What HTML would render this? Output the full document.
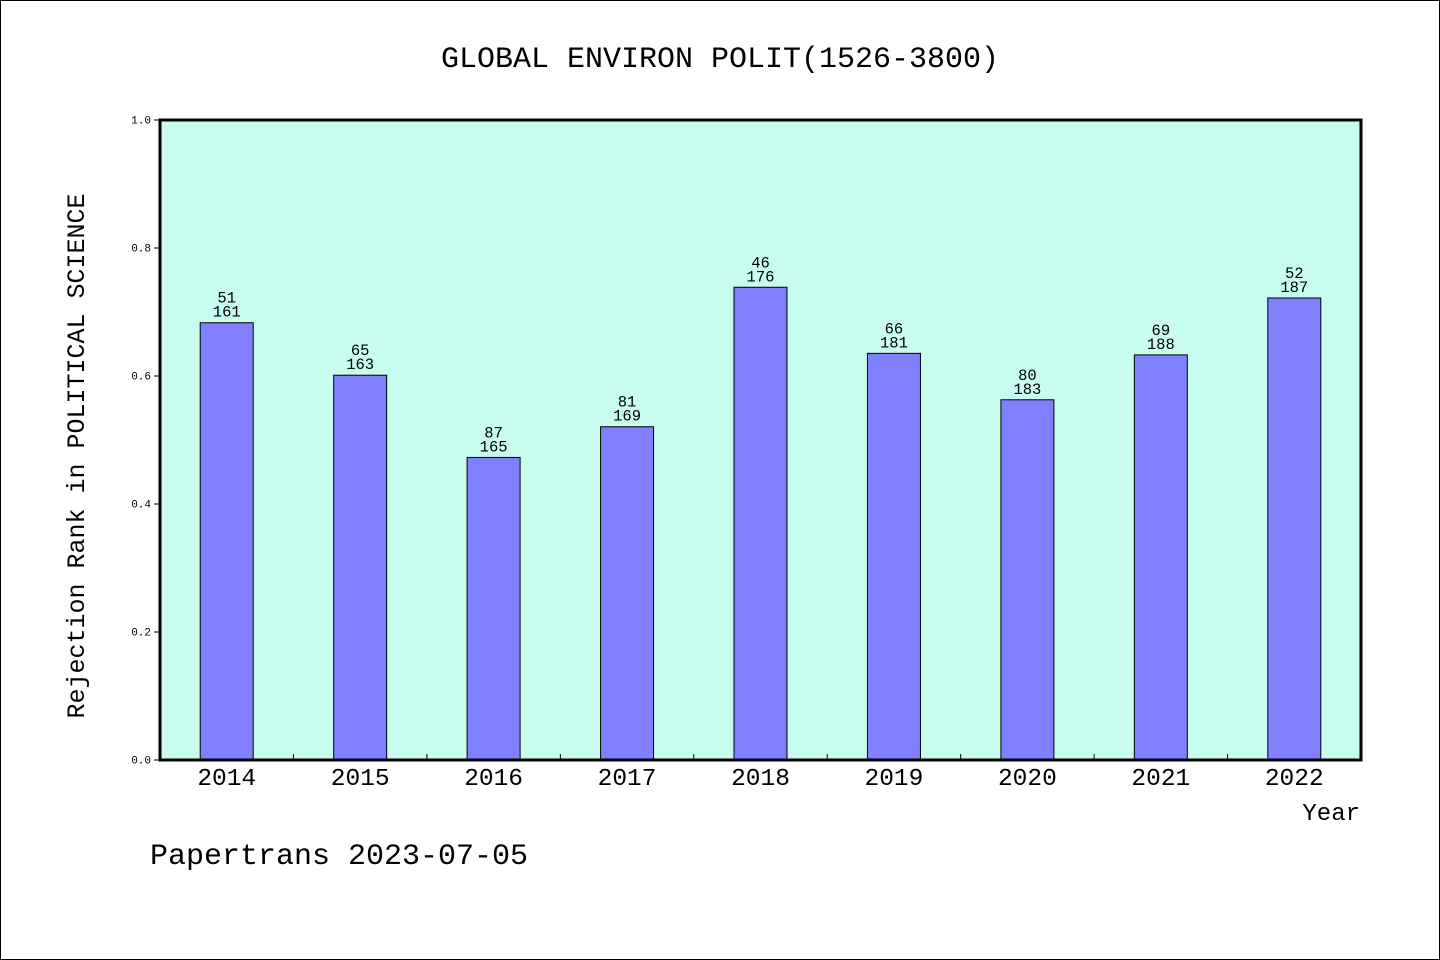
<!DOCTYPE html>
<html><head><meta charset="utf-8"><style>
html,body{margin:0;padding:0;background:#fff;}
svg{display:block;}
text{font-family:"Liberation Mono","WenQuanYi Zen Hei",monospace;fill:#000;}
</style></head><body>
<svg width="1440" height="960" viewBox="0 0 1440 960" xmlns="http://www.w3.org/2000/svg">
<rect x="0.5" y="0.5" width="1439" height="959" fill="#fff" stroke="#000"/>
<text x="720" y="67" font-size="30" text-anchor="middle">GLOBAL ENVIRON POLIT(1526-3800)</text>
<rect x="160" y="120" width="1201" height="640" fill="#c8fcee"/>
<g id="bars"></g>
<rect x="160" y="120" width="1201" height="640" fill="none" stroke="#000" stroke-width="3"/>
<g id="axes"></g>
<text transform="translate(84,456) rotate(-90)" font-size="25" text-anchor="middle">Rejection Rank in POLITICAL SCIENCE</text>
<text x="1360" y="820" font-size="24" text-anchor="end">Year</text>
<text x="150" y="864" font-size="30">Papertrans 2023-07-05</text>
</svg>
<script>
const years = ["2014","2015","2016","2017","2018","2019","2020","2021","2022"];
const ranks = [51,65,87,81,46,66,80,69,52];
const totals = [161,163,165,169,176,181,183,188,187];
const yTicks = [0,0.2,0.4,0.6,0.8,1.0];
const NS="http://www.w3.org/2000/svg";
const X0=160,X1=1361,Y0=760,Y1=120;
const band=(X1-X0)/years.length;
const xc=i=>X0+band*(i+0.5);
const ys=v=>Y0-(Y0-Y1)*v;
function mk(tag,attrs,parent,txt){const e=document.createElementNS(NS,tag);for(const k in attrs)e.setAttribute(k,attrs[k]);if(txt!==undefined)e.textContent=txt;parent.appendChild(e);return e;}
const bars=document.getElementById('bars'),axes=document.getElementById('axes');
years.forEach((y,i)=>{
  const v=1-ranks[i]/totals[i];
  const r=mk('rect',{x:xc(i)-26.5,y:ys(v),width:53,height:Y0-ys(v),fill:'#8080ff',stroke:'#000','stroke-width':1},bars);
  
  
  const t1=mk('text',{x:xc(i),y:ys(v)-20,'font-size':15.5,'text-anchor':'middle'},bars,String(ranks[i]));
  
  
  const t2=mk('text',{x:xc(i),y:ys(v)-6,'font-size':15.5,'text-anchor':'middle'},bars,String(totals[i]));
  
  
  const xl=mk('text',{x:xc(i),y:785,'font-size':24.5,'text-anchor':'middle'},axes,y);
  
  
  if(i>0){const tk=mk('line',{x1:X0+band*i,x2:X0+band*i,y1:Y0,y2:Y0-6,stroke:'#000'},axes);
  
  }
});
yTicks.forEach(t=>{
  const tk=mk('line',{x1:X0-6,x2:X0,y1:ys(t),y2:ys(t),stroke:'#000'},axes);
  
  
  const l=mk('text',{x:151,y:ys(t)+3.5,'font-size':11,'text-anchor':'end'},axes,t.toFixed(1));
  
  
});
</script>
</body></html>
